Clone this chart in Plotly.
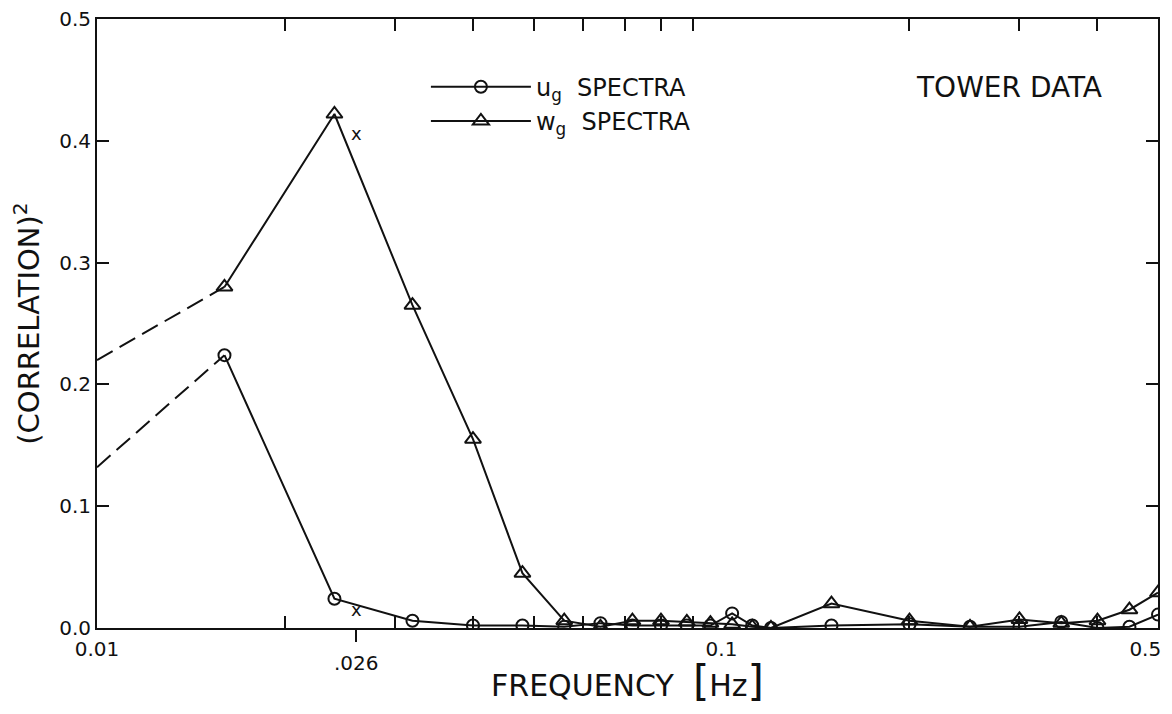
import numpy as np
import plotly.graph_objects as go

# ---- data ----
freq = [0.016, 0.024, 0.032, 0.040, 0.048, 0.056, 0.064, 0.072, 0.080, 0.088, 0.096,
        0.104, 0.112, 0.120, 0.15, 0.20, 0.25, 0.30, 0.35, 0.40, 0.45, 0.50]
w_g = [0.280, 0.422, 0.265, 0.155, 0.045, 0.006, 0.001, 0.006, 0.006, 0.005, 0.004,
       0.003, 0.001, 0.000, 0.020, 0.006, 0.001, 0.007, 0.004, 0.006, 0.015, 0.029]
u_g = [0.224, 0.024, 0.006, 0.002, 0.002, 0.001, 0.004, 0.002, 0.002, 0.002, 0.002,
       0.012, 0.002, 0.000, 0.002, 0.003, 0.001, 0.001, 0.005, 0.000, 0.001, 0.011]

ext_freq = [0.01, 0.016]          # dashed extrapolation to the axis
w_ext = [0.220, 0.280]
u_ext = [0.132, 0.224]

mark_freq = 0.026                  # "x" marks at .026 Hz
mark_y = [0.406, 0.015]

x_tick_vals = [0.01, 0.1, 0.5]
x_tick_text = ["0.01", "0.1", "0.5\u00a0\u00a0\u00a0\u00a0"]
x_minor_vals = [0.02, 0.03, 0.04, 0.05, 0.06, 0.07, 0.08, 0.09, 0.2, 0.3, 0.4]
x_special_val = [0.026]
x_special_text = [".026"]

FONT = "DejaVu Sans"
BLACK = "#111111"

fig = go.Figure()

fig.add_trace(go.Scatter(x=ext_freq, y=w_ext, mode="lines", showlegend=False,
                         line=dict(color=BLACK, width=2, dash="18px,8px")))
fig.add_trace(go.Scatter(x=ext_freq, y=u_ext, mode="lines", showlegend=False,
                         line=dict(color=BLACK, width=2, dash="18px,8px")))

fig.add_trace(go.Scatter(x=freq, y=u_g, mode="lines+markers",
                         name="u<sub>g</sub>  SPECTRA",
                         line=dict(color=BLACK, width=2),
                         marker=dict(symbol="circle-open", size=12, color=BLACK,
                                     line=dict(width=2, color=BLACK))))
fig.add_trace(go.Scatter(x=freq, y=w_g, mode="lines+markers",
                         name="w<sub>g</sub>  SPECTRA",
                         line=dict(color=BLACK, width=2),
                         marker=dict(symbol="triangle-up-open", size=14, color=BLACK,
                                     line=dict(width=2, color=BLACK))))

for yv in mark_y:
    fig.add_annotation(x=np.log10(mark_freq), y=yv, text="x", showarrow=False,
                       font=dict(family=FONT, size=18, color=BLACK))

fig.add_annotation(xref="paper", yref="paper", x=0.860, y=0.888, text="TOWER DATA",
                   xanchor="center", yanchor="middle",
                   showarrow=False, font=dict(family=FONT, size=28, color=BLACK))

# The page body adds an 8px offset; size the figure so the plot lands where the reference has it.
fig.update_layout(
    width=1164, height=698,
    margin=dict(l=89, r=14, t=11, b=78, autoexpand=False),
    paper_bgcolor="white", plot_bgcolor="white",
    font=dict(family=FONT, color=BLACK, size=20),
    legend=dict(x=0.31, y=0.925, xanchor="left", yanchor="top",
                bgcolor="rgba(0,0,0,0)", font=dict(family=FONT, size=24),
                itemwidth=100, tracegroupgap=0),
    xaxis=dict(type="log", range=[np.log10(0.01), np.log10(0.5)], automargin=False,
               showline=True, linecolor=BLACK, linewidth=2, mirror="ticks",
               showgrid=False, zeroline=False,
               tickmode="array", tickvals=x_tick_vals, ticktext=x_tick_text,
               ticks="", ticklabelstandoff=2, ticklabeloverflow="allow",
               tickfont=dict(family=FONT, size=20),
               minor=dict(tickmode="array", tickvals=x_minor_vals, ticks="inside",
                          ticklen=12, tickwidth=2, tickcolor=BLACK, showgrid=False),
               title=dict(text="FREQUENCY  <span style='font-size:42px'>[</span>Hz<span style='font-size:42px'>]</span>",
                          font=dict(family=FONT, size=30), standoff=10)),
    xaxis2=dict(type="log", range=[np.log10(0.01), np.log10(0.5)], automargin=False,
                overlaying="x", anchor="y", side="bottom",
                showline=False, showgrid=False, zeroline=False,
                tickmode="array", tickvals=x_special_val, ticktext=x_special_text,
                ticks="outside", ticklen=13, tickwidth=2, tickcolor=BLACK,
                ticklabelstandoff=4,
                tickfont=dict(family=FONT, size=20)),
    yaxis=dict(range=[0, 0.5], dtick=0.1, tickformat=".1f", automargin=False,
               showline=True, linecolor=BLACK, linewidth=2, mirror="ticks",
               showgrid=False, zeroline=False,
               ticks="inside", ticklen=12, tickwidth=2, tickcolor=BLACK,
               ticklabelstandoff=0, ticklabeloverflow="allow",
               tickfont=dict(family=FONT, size=20),
               title=dict(text="(CORRELATION)<sup>2</sup>",
                          font=dict(family=FONT, size=29), standoff=12)),
)

# invisible trace so the overlay axis is drawn
fig.add_trace(go.Scatter(x=[mark_freq], y=[0], xaxis="x2", mode="markers",
                         marker=dict(opacity=0), showlegend=False, hoverinfo="skip"))

fig.write_html("out.html")
